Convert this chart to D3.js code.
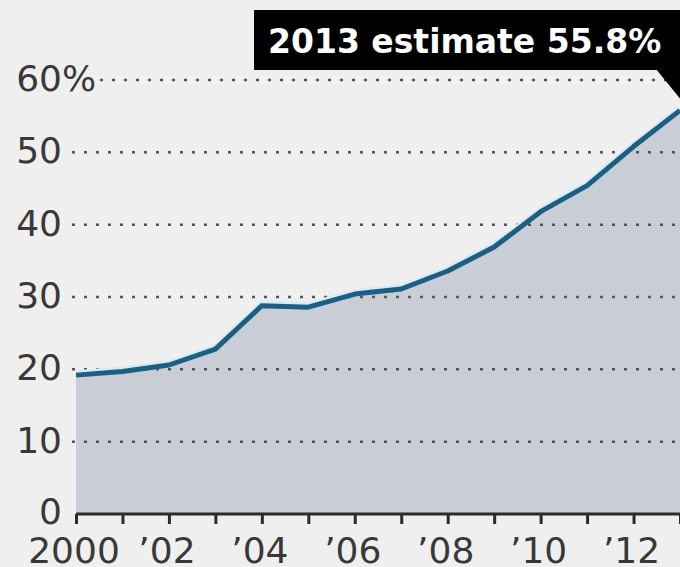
<!DOCTYPE html>
<html>
<head>
<meta charset="utf-8">
<script src="https://cdn.jsdelivr.net/npm/d3@7"></script>
<style>
  body { margin: 0; background: #efefef; }
  svg { display: block; }
</style>
</head>
<body>
<svg width="680" height="567"></svg>
<script>
var years = [2000, 2001, 2002, 2003, 2004, 2005, 2006, 2007, 2008, 2009, 2010, 2011, 2012, 2013];
var shares = [19.2, 19.7, 20.6, 22.8, 28.8, 28.6, 30.4, 31.1, 33.6, 36.9, 41.8, 45.4, 50.8, 55.8];
var yTicks = [0, 10, 20, 30, 40, 50, 60];
var xLabelYears = [2000, 2002, 2004, 2006, 2008, 2010, 2012];
var xLabels = ["2000", "\u201902", "\u201904", "\u201906", "\u201908", "\u201910", "\u201912"];
var calloutText = "2013 estimate 55.8%";

var svg = d3.select("svg");
var font = "'DejaVu Sans', Verdana, sans-serif";

var x = d3.scaleLinear().domain([2000, 2013]).range([76, 680]);
var y = d3.scaleLinear().domain([0, 60]).range([514, 80]);

var data = years.map(function(yr, i) { return { year: yr, value: shares[i] }; });

// area under the line
var area = d3.area()
  .x(function(d) { return x(d.year); })
  .y0(y(0))
  .y1(function(d) { return y(d.value); });

svg.append("path")
  .datum(data)
  .attr("d", area)
  .attr("fill", "#c9ced6");

// dotted gridlines
yTicks.filter(function(t) { return t > 0; }).forEach(function(t) {
  svg.append("line")
    .attr("x1", t == 60 ? 100 : 72)
    .attr("x2", 680)
    .attr("y1", y(t))
    .attr("y2", y(t))
    .attr("stroke", "#555")
    .attr("stroke-width", 2.5)
    .attr("stroke-dasharray", "3,9");
});

// y labels
svg.selectAll(".ylab")
  .data(yTicks)
  .enter()
  .append("text")
  .attr("class", "ylab")
  .attr("x", 62)
  .attr("y", function(d) { return y(d) + (d == 0 ? 10 : 11); })
  .attr("text-anchor", "end")
  .attr("font-family", font)
  .attr("font-size", 36)
  .attr("fill", "#383838")
  .text(function(d) { return d; });

svg.append("text")
  .attr("x", 62)
  .attr("y", y(60) + 11)
  .attr("font-family", font)
  .attr("font-size", 36)
  .attr("fill", "#383838")
  .text("%");

// x axis
var xAxis = d3.axisBottom(x)
  .tickValues(years)
  .tickSize(10)
  .tickFormat("");

var gx = svg.append("g")
  .attr("transform", "translate(0," + y(0) + ")")
  .call(xAxis);
gx.select(".domain").attr("stroke", "#2b2b2b").attr("stroke-width", 3).attr("d", "M76,0H680");
gx.selectAll(".tick line").attr("stroke", "#2b2b2b").attr("stroke-width", 3);

svg.selectAll(".xlab")
  .data(xLabelYears)
  .enter()
  .append("text")
  .attr("class", "xlab")
  .attr("x", function(d) { return x(d) - 2; })
  .attr("y", 563)
  .attr("text-anchor", "middle")
  .attr("font-family", font)
  .attr("font-size", 36)
  .attr("fill", "#383838")
  .text(function(d, i) { return xLabels[i]; });

// line with light halo
var line = d3.line()
  .x(function(d) { return x(d.year); })
  .y(function(d) { return y(d.value); });

svg.append("path")
  .datum(data)
  .attr("d", line)
  .attr("transform", "translate(0,-2)")
  .attr("fill", "none")
  .attr("stroke", "#d4ecf4")
  .attr("stroke-width", 6);

svg.append("path")
  .datum(data)
  .attr("d", line)
  .attr("fill", "none")
  .attr("stroke", "#1d5f82")
  .attr("stroke-width", 5)
  .attr("stroke-linejoin", "round");

// callout box
var last = data[data.length - 1];
svg.append("rect")
  .attr("x", 254)
  .attr("y", 10)
  .attr("width", 680 - 254)
  .attr("height", 60)
  .attr("fill", "#000");

svg.append("path")
  .attr("d", "M" + (x(last.year) - 24) + ",69L" + x(last.year) + ",69L" + x(last.year) + "," + (y(last.value) - 12) + "Z")
  .attr("fill", "#000");

svg.append("text")
  .attr("x", 268)
  .attr("y", 53)
  .attr("font-family", font)
  .attr("font-weight", "bold")
  .attr("font-size", 33)
  .attr("fill", "#fff")
  .text(calloutText);
</script>
</body>
</html>
